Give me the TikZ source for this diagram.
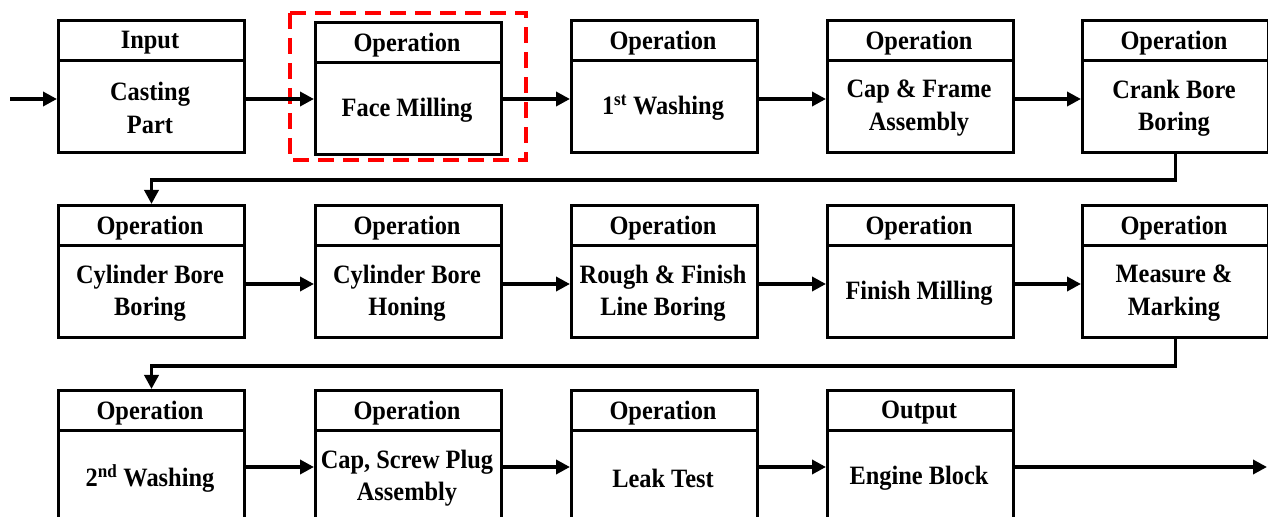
\documentclass[tikz,border=0pt]{standalone}
\usepackage{fontspec}
\setmainfont{Liberation Serif}[FakeStretch=0.92]
\usetikzlibrary{arrows.meta}

\tikzset{
  x=1bp, y=-1bp,
  stepbox/.style={draw, line width=3bp, minimum width=186bp, minimum height=132bp,
                  inner sep=0pt, anchor=north west},
  divider/.style={line width=3bp},
  hdr/.style={font=\bfseries\fontsize{26.5bp}{31bp}\selectfont, inner sep=0pt},
  bodytext/.style={font=\bfseries\fontsize{26.5bp}{32.5bp}\selectfont, align=center, inner sep=0pt},
  arr/.style={line width=3.5bp, -{Triangle[length=14bp,width=14bp]}},
  elbow/.style={line width=3.5bp, -{Triangle[length=14bp,width=14bp]}},
  hl/.style={draw=red, line width=4bp, dash pattern=on 16bp off 9bp},
}

% a process box: name, left, top, header text, body text
\newcommand\procbox[5]{%
  \node[stepbox] (#1) at (#2,#3) {};
  \draw[divider] ([shift={(0,42)}]#1.north west) -- ([shift={(0,42)}]#1.north east);
  \node[hdr] (#1-h) at ([shift={(93,24)}]#1.north west) {#4};
  \node[bodytext] (#1-b) at ([shift={(93,89)}]#1.north west) {#5};
}

\begin{document}
\begin{tikzpicture}
\useasboundingbox (0,0) rectangle (1268,517);
\clip (0,0) rectangle (1268,517);

% arrow levels of the three rows
\coordinate (r1) at (0,99);
\coordinate (r2) at (0,284);
\coordinate (r3) at (0,467);
\coordinate (start) at (10,99);
\coordinate (end) at (1267,467);

% row 1
\procbox{inp}{57}{19}{Input}{Casting\\Part}
\procbox{fm}{314}{21}{Operation}{Face Milling}
\procbox{wa1}{570}{19}{Operation}{1\textsuperscript{st} Washing}
\procbox{cap}{826}{19}{Operation}{Cap \& Frame\\Assembly}
\procbox{crk}{1081}{19}{Operation}{Crank Bore\\Boring}

% row 2
\procbox{cyb}{57}{204}{Operation}{Cylinder Bore\\Boring}
\procbox{cyh}{314}{204}{Operation}{Cylinder Bore\\Honing}
\procbox{lnb}{570}{204}{Operation}{Rough \& Finish\\Line Boring}
\procbox{fin}{826}{204}{Operation}{Finish Milling}
\procbox{mea}{1081}{204}{Operation}{Measure \&\\Marking}

% row 3
\procbox{wa2}{57}{389}{Operation}{2\textsuperscript{nd} Washing}
\procbox{scr}{314}{389}{Operation}{Cap, Screw Plug\\Assembly}
\procbox{lk}{570}{389}{Operation}{Leak Test}
\procbox{out}{826}{389}{Output}{Engine Block}

% highlighted step
\draw[hl] ([shift={(-24,-8)}]fm.north west) rectangle ([shift={(23,4)}]fm.south east);

% flow, row 1
\draw[arr] (start) -- (inp.west |- r1);
\draw[arr] (inp.east |- r1) -- (fm.west |- r1);
\draw[arr] (fm.east |- r1) -- (wa1.west |- r1);
\draw[arr] (wa1.east |- r1) -- (cap.west |- r1);
\draw[arr] (cap.east |- r1) -- (crk.west |- r1);
\draw[elbow] (crk.south) -- ++(0,26) -| (cyb.north);

% flow, row 2
\draw[arr] (cyb.east |- r2) -- (cyh.west |- r2);
\draw[arr] (cyh.east |- r2) -- (lnb.west |- r2);
\draw[arr] (lnb.east |- r2) -- (fin.west |- r2);
\draw[arr] (fin.east |- r2) -- (mea.west |- r2);
\draw[elbow] (mea.south) -- ++(0,27) -| (wa2.north);

% flow, row 3
\draw[arr] (wa2.east |- r3) -- (scr.west |- r3);
\draw[arr] (scr.east |- r3) -- (lk.west |- r3);
\draw[arr] (lk.east |- r3) -- (out.west |- r3);
\draw[arr] (out.east |- r3) -- (end);
\end{tikzpicture}
\end{document}
